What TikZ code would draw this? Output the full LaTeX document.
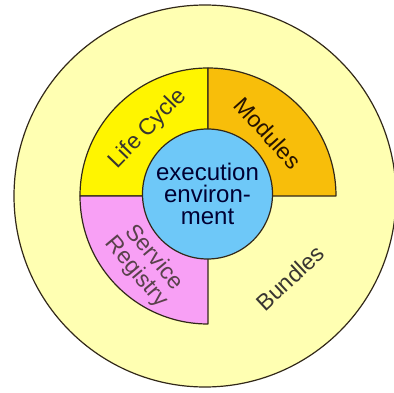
\documentclass[tikz,border=0pt]{standalone}
\usepackage{fontspec}
\setmainfont{Liberation Sans}
\definecolor{bundlebg}{RGB}{255,255,178}
\definecolor{lifecol}{RGB}{255,245,0}
\definecolor{modcol}{RGB}{248,190,10}
\definecolor{servcol}{RGB}{248,160,245}
\definecolor{envcol}{RGB}{110,200,248}
\definecolor{edge}{RGB}{50,40,25}
\begin{document}
\begin{tikzpicture}[x=1pt,y=1pt, line join=round, line cap=round, font=\fontsize{23}{23}\selectfont]
	\useasboundingbox (0,0) rectangle (394,392);
	\clip (0,0) rectangle (394,392);
	\coordinate (c) at (208,196);
	\filldraw[fill=bundlebg, draw=edge, line width=1.2pt] (205,196) circle (191);
	\filldraw[fill=lifecol, draw=edge, line width=1.2pt] (c) -- ++(180:128) arc[start angle=180, end angle=90, radius=128] -- cycle;
	\filldraw[fill=modcol, draw=edge, line width=1.2pt] (c) -- ++(90:128) arc[start angle=90, end angle=0, radius=128] -- cycle;
	\filldraw[fill=servcol, draw=edge, line width=1.2pt] (c) -- ++(180:128) arc[start angle=180, end angle=270, radius=128] -- cycle;
	\node (env) at (207.5,198) [circle, fill=envcol, draw=edge, line width=1.2pt, minimum size=130, inner sep=0, align=center, text=black!80!blue, font=\fontsize{24}{22}\selectfont] {execution\\environ-\\ment};
	\node (lifecycle) at (148,263) [rotate=46, text=black!90!yellow] {Life Cycle};
	\node (modules) at (268,259) [rotate=-48, text=black!85!orange] {Modules};
	\node (registry) at (145,127) [rotate=-50, align=center, text=black!75!magenta] {Service\\Registry};
	\node (bundles) at (290,114) [rotate=43, text=black!90!yellow] {Bundles};
\end{tikzpicture}
\end{document}
